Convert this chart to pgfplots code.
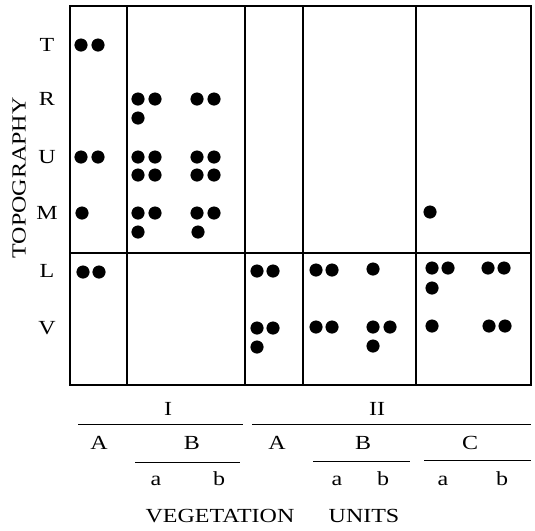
\documentclass[border=0pt]{standalone}
\usepackage{pgfplots}
\pgfplotsset{compat=1.18}
\usepackage{fontspec}
\setmainfont[FakeStretch=1.2]{Liberation Serif}
\pgfplotsset{dot/.style={only marks, mark=*, mark size=6.3pt, draw=black, fill=black, mark options={solid, draw=black, fill=black}}}
\begin{document}
\begin{tikzpicture}[x=1pt,y=1pt]
\path[use as bounding box] (0,0) rectangle (535,-530);
\begin{axis}[
  at={(70pt,-385pt)}, anchor=south west,
  scale only axis, width=461pt, height=379pt,
  xmin=70, xmax=531, ymin=6, ymax=385, y dir=reverse,
  axis line style={line width=1.6pt},
  xtick=\empty,
  ytick={45,99,157,213,271,328},
  yticklabels={T,R,U,M,L,V},
  major tick length=0pt,
  yticklabel style={font=\fontsize{20}{23}\selectfont, anchor=center, xshift=-23pt},
  clip=false,
]
% dividers
\draw[line width=1.1pt] (axis cs:127,6) -- (axis cs:127,385);
\draw[line width=1.3pt] (axis cs:245,6) -- (axis cs:245,385);
\draw[line width=1.1pt] (axis cs:303,6) -- (axis cs:303,385);
\draw[line width=1.1pt] (axis cs:416,6) -- (axis cs:416,385);
\draw[line width=1.1pt] (axis cs:70,253) -- (axis cs:531,253);
% I A
\addplot[dot] coordinates {(81,45) (98,45) (81,157) (98,157) (82,213) (83,272) (99,272)};
% I B a
\addplot[dot] coordinates {(138,99) (155,99) (138,118) (138,157) (155,157) (138,175) (155,175) (138,213) (155,213) (138,232)};
% I B b
\addplot[dot] coordinates {(197,99) (214,99) (197,157) (214,157) (197,175) (214,175) (197,213) (214,213) (198,232)};
% II A
\addplot[dot] coordinates {(257,271) (273,271) (257,328) (273,328) (257,347)};
% II B a
\addplot[dot] coordinates {(316,270) (332,270) (316,327) (332,327)};
% II B b
\addplot[dot] coordinates {(373,269) (373,327) (390,327) (373,346)};
% II C a
\addplot[dot] coordinates {(430,212) (432,268) (448,268) (432,288) (432,326)};
% II C b
\addplot[dot] coordinates {(488,268) (504,268) (489,326) (505,326)};
% unit labels
\begin{scope}[every node/.style={font=\fontsize{20}{23}\selectfont, inner sep=0pt}]
\node at (axis cs:168,409) {I};
\node at (axis cs:377,409) {II};
\draw[line width=1pt] (axis cs:78,424) -- (axis cs:243,424);
\draw[line width=1pt] (axis cs:252,424) -- (axis cs:531,424);
\node at (axis cs:99,443) {A};
\node at (axis cs:192,443) {B};
\node at (axis cs:277,443) {A};
\node at (axis cs:363,443) {B};
\node at (axis cs:470,443) {C};
\draw[line width=1pt] (axis cs:135,462) -- (axis cs:240,462);
\draw[line width=1pt] (axis cs:313,461) -- (axis cs:410,461);
\draw[line width=1pt] (axis cs:424,460) -- (axis cs:531,460);
\node[anchor=base] at (axis cs:156,485) {a};
\node[anchor=base] at (axis cs:219,485) {b};
\node[anchor=base] at (axis cs:337,485) {a};
\node[anchor=base] at (axis cs:383,485) {b};
\node[anchor=base] at (axis cs:443,485) {a};
\node[anchor=base] at (axis cs:502,485) {b};
\node at (axis cs:220,516) {VEGETATION};
\node at (axis cs:364,516) {UNITS};
\node[rotate=90] at (axis cs:19,178) {TOPOGRAPHY};
\end{scope}
\end{axis}
\end{tikzpicture}
\end{document}
